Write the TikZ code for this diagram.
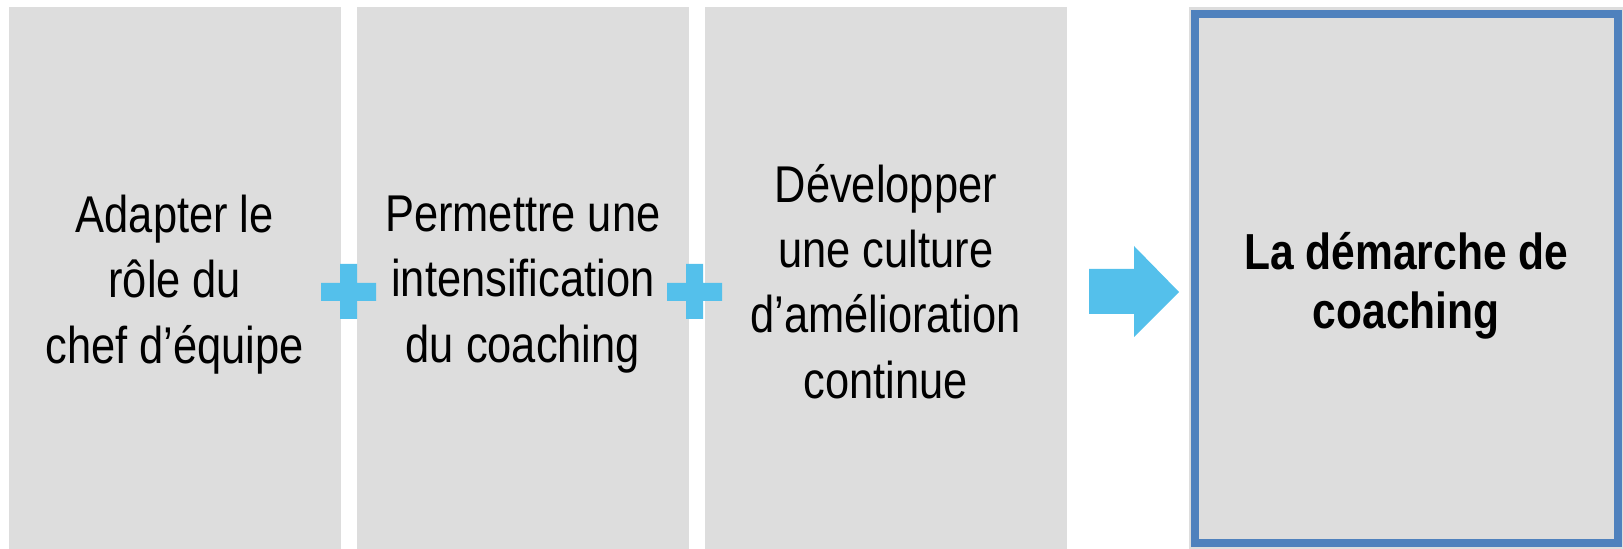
\documentclass[tikz,border=0pt]{standalone}
\usepackage{fontspec}
\setmainfont{Liberation Sans}[FakeStretch=0.84]
\begin{document}
\begin{tikzpicture}[x=0.01cm, y=-0.01cm,
  panel/.style={fill=panelgray, draw=none, inner sep=0pt, anchor=north west,
    minimum height=5.43cm},
  paneltext/.style={inner sep=0pt, align=center, text=black,
    font=\fontsize{14.7pt}{18.6pt}\selectfont},
  resulttext/.style={inner sep=0pt, align=center, text=black,
    font=\bfseries\fontsize{14.4pt}{16.8pt}\selectfont},
  sign/.style={fill=signblue, draw=none}]
\definecolor{panelgray}{RGB}{221,221,221}
\definecolor{signblue}{RGB}{84,192,235}
\definecolor{frameblue}{RGB}{79,129,189}
\useasboundingbox (0,0) rectangle (1623,549);

% three input panels
\node[panel, minimum width=3.32cm] (p1) at (8,6) {};
\node[panel, minimum width=3.32cm] (p2) at (356,6) {};
\node[panel, minimum width=3.62cm] (p3) at (704,6) {};
\node[paneltext, yshift=-0.06cm] (t1) at (p1.center)
  {Adapter le\\rôle du\\chef d’équipe};
\node[paneltext, yshift=-0.06cm] (t2) at (p2.center)
  {Permettre une\\intensification\\du coaching};
\node[paneltext, yshift=-0.03cm] (t3) at (p3.center)
  {Développer\\une culture\\d’amélioration\\continue};

% result panel with its frame
\node[panel, minimum width=4.35cm] (res) at (1188,6) {};
\draw[frameblue, line width=0.08cm] (1195,14) rectangle (1618,543.5);
\node[resulttext, yshift=-0.07cm] (rt) at (res.center) {La démarche de\\coaching};

% plus signs between the panels
\fill[sign] (321,283) -- (340,283) -- (340,264) -- (357,264) -- (357,283)
  -- (376,283) -- (376,301) -- (357,301) -- (357,319) -- (340,319)
  -- (340,301) -- (321,301) -- cycle;
\fill[sign] (667,283) -- (686,283) -- (686,264) -- (703,264) -- (703,283)
  -- (722,283) -- (722,301) -- (703,301) -- (703,319) -- (686,319)
  -- (686,301) -- (667,301) -- cycle;

% block arrow towards the result
\fill[sign] (1089,269) -- (1134,269) -- (1134,246) -- (1179,292)
  -- (1134,337) -- (1134,314) -- (1089,314) -- cycle;
\end{tikzpicture}
\end{document}
